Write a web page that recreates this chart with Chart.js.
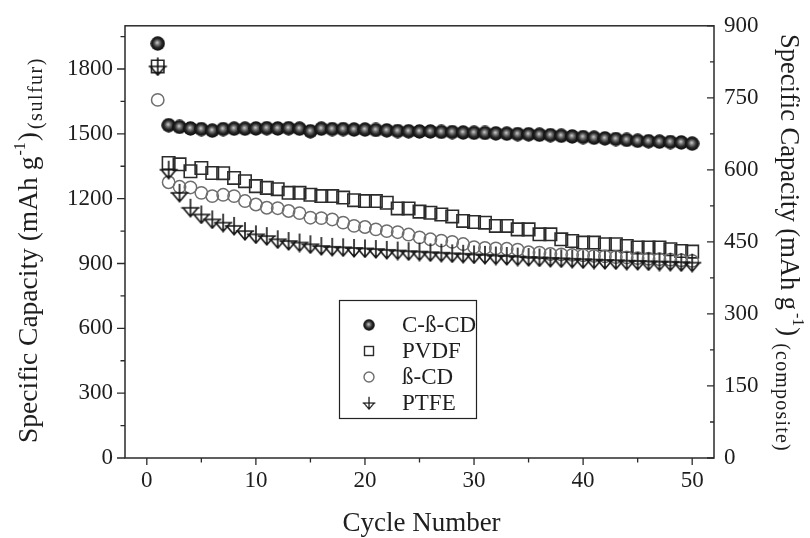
<!DOCTYPE html>
<html>
<head>
<meta charset="utf-8">
<script src="https://cdn.jsdelivr.net/npm/chart.js@4/dist/chart.umd.min.js"></script>
<style>
  html, body { margin: 0; padding: 0; background: #fff; }
  #wrap { width: 810px; height: 538px; }
</style>
</head>
<body>
<div id="wrap"><canvas id="c" width="810" height="538"></canvas></div>
<script>
// Cycle numbers and discharge capacities (mAh g-1, per sulfur)
const cycles = [1,2,3,4,5,6,7,8,9,10,11,12,13,14,15,16,17,18,19,20,21,22,23,24,25,
                26,27,28,29,30,31,32,33,34,35,36,37,38,39,40,41,42,43,44,45,46,47,48,49,50];
const cbcd = [1918,1540,1532,1525,1522,1515,1522,1524,1524,1525,1526,1525,1526,1524,1512,1524,1522,1522,1520,1520,
              1518,1516,1513,1512,1511,1511,1509,1508,1506,1505,1504,1502,1501,1499,1498,1496,1494,1491,1488,1485,
              1482,1479,1476,1472,1468,1466,1464,1462,1460,1455];
const pvdf = [1812,1365,1359,1327,1342,1319,1318,1296,1281,1258,1250,1244,1227,1227,1218,1212,1212,1205,1193,1189,
              1189,1181,1155,1155,1140,1135,1127,1118,1097,1092,1089,1074,1074,1058,1058,1035,1035,1012,1004,997,
              997,989,989,981,974,974,974,966,958,955];
const bcd  = [1657,1276,1255,1252,1227,1212,1218,1212,1189,1173,1158,1156,1143,1133,1112,1110,1104,1089,1074,1069,
              1058,1050,1045,1034,1021,1012,1006,1000,990,976,972,970,968,964,952,950,944,942,940,938,
              935,933,930,928,925,922,920,918,915,912];
const ptfe = [1812,1334,1227,1158,1127,1104,1089,1074,1050,1035,1027,1012,1004,997,989,981,977,975,972,970,
              967,963,960,957,955,952,950,947,945,942,940,937,935,932,930,928,926,924,922,920,
              918,916,915,913,912,910,909,908,906,904];
const seriesNames = ['C-ß-CD', 'PVDF', 'ß-CD', 'PTFE'];

// Axis ticks
const xTicks = [0, 10, 20, 30, 40, 50];
const leftTicks = [0, 300, 600, 900, 1200, 1500, 1800];
const rightTicks = [0, 150, 300, 450, 600, 750, 900];

const SERIF = '"Liberation Serif", "Times New Roman", serif';
const INK = '#1e1e1e';

// Shaded sphere marker
function makeSphere(d) {
  const c = document.createElement('canvas');
  c.width = c.height = d;
  const g = c.getContext('2d');
  const r = d / 2;
  const grad = g.createRadialGradient(r * 0.92, r * 0.88, r * 0.04, r, r, r);
  grad.addColorStop(0, '#c8c8c8');
  grad.addColorStop(0.28, '#707070');
  grad.addColorStop(0.6, '#262626');
  grad.addColorStop(1, '#080808');
  g.fillStyle = grad;
  g.beginPath();
  g.arc(r, r, r - 0.3, 0, Math.PI * 2);
  g.fill();
  return c;
}

// Down-triangle with a cross through it
function makeCrossTri(s, lw) {
  const c = document.createElement('canvas');
  c.width = c.height = s;
  const g = c.getContext('2d');
  const m = s / 2;
  g.strokeStyle = '#151515';
  g.lineWidth = lw;
  g.beginPath();
  g.moveTo(0.8, m); g.lineTo(s - 0.8, m);
  g.moveTo(m, 1); g.lineTo(m, s - 1);
  g.moveTo(m - s * 0.37, m); g.lineTo(m + s * 0.37, m); g.lineTo(m, s - 1.3); g.closePath();
  g.stroke();
  return c;
}

const sphere = makeSphere(15);
const crossTri = makeCrossTri(20, 1.6);

function pts(ys) { return cycles.map((c, i) => ({ x: c, y: ys[i] })); }

// Frame, ticks, axis titles and legend
const decor = {
  id: 'decor',
  beforeDatasetsDraw(chart) {
    const { ctx, chartArea: a } = chart;
    const sx = chart.scales.x, sl = chart.scales.y, sr = chart.scales.yR;
    ctx.save();
    ctx.strokeStyle = '#2a2a2a';
    ctx.lineWidth = 1.5;
    ctx.strokeRect(a.left, a.top, a.right - a.left, a.bottom - a.top);
    ctx.lineWidth = 1.3;
    ctx.beginPath();
    // bottom: outward
    xTicks.forEach((v, i) => {
      const px = sx.getPixelForValue(v);
      ctx.moveTo(px, a.bottom); ctx.lineTo(px, a.bottom + 7);
      if (i < xTicks.length - 1) {
        const mx = sx.getPixelForValue((v + xTicks[i + 1]) / 2);
        ctx.moveTo(mx, a.bottom); ctx.lineTo(mx, a.bottom + 4.5);
      }
    });
    // left: outward
    const step = leftTicks[1] - leftTicks[0];
    leftTicks.forEach(v => {
      const py = sl.getPixelForValue(v);
      ctx.moveTo(a.left, py); ctx.lineTo(a.left - 8, py);
      const mv = v + step / 2;
      if (mv <= sl.max) {
        const my = sl.getPixelForValue(mv);
        ctx.moveTo(a.left, my); ctx.lineTo(a.left - 4.5, my);
      }
    });
    // right: inward
    rightTicks.forEach((v, i) => {
      const py = sr.getPixelForValue(v);
      ctx.moveTo(a.right, py); ctx.lineTo(a.right - 7, py);
      if (i < rightTicks.length - 1) {
        const my = sr.getPixelForValue((v + rightTicks[i + 1]) / 2);
        ctx.moveTo(a.right, my); ctx.lineTo(a.right - 4, my);
      }
    });
    ctx.stroke();
    ctx.restore();
  },
  afterDraw(chart) {
    const { ctx, chartArea: a } = chart;
    ctx.save();
    ctx.fillStyle = INK;

    // x title
    ctx.font = '27px ' + SERIF;
    ctx.textAlign = 'center';
    ctx.textBaseline = 'alphabetic';
    ctx.fillText('Cycle Number', (a.left + a.right) / 2 + 2, 531);

    // vertical titles with super/subscripts
    function rich(parts, cx, cy, angle) {
      ctx.save();
      ctx.translate(cx, cy);
      ctx.rotate(angle);
      ctx.textAlign = 'left';
      ctx.textBaseline = 'alphabetic';
      let total = 0;
      parts.forEach(p => {
        ctx.font = p.size + 'px ' + SERIF;
        ctx.letterSpacing = (p.ls || 0) + 'px';
        p.w = ctx.measureText(p.t).width;
        total += p.w + (p.gap || 0);
      });
      let x = -total / 2;
      parts.forEach(p => {
        ctx.font = p.size + 'px ' + SERIF;
        ctx.letterSpacing = (p.ls || 0) + 'px';
        x += (p.gap || 0);
        ctx.fillText(p.t, x, 9 + (p.dy || 0));
        x += p.w;
      });
      ctx.restore();
    }
    rich([
      { t: 'Specific Capacity (mAh g', size: 27.5 },
      { t: '-1', size: 16, dy: -12, gap: 1 },
      { t: ')', size: 27.5, gap: 1 },
      { t: '(sulfur)', size: 20, dy: 5, gap: 3, ls: 1.5 }
    ], 28, 250, -Math.PI / 2);
    rich([
      { t: 'Specific Capacity (mAh g', size: 26.5 },
      { t: '-1', size: 16, dy: -12, gap: 3 },
      { t: ')', size: 26.5, gap: 1 },
      { t: '(composite)', size: 20, dy: 5, gap: 7, ls: 1.2 }
    ], 790, 243, Math.PI / 2);

    // legend box
    const lx = 339, ly = 300, lw = 137, lh = 118;
    ctx.strokeStyle = '#222';
    ctx.lineWidth = 1.2;
    ctx.strokeRect(lx + 0.5, ly + 0.5, lw, lh);
    const mx = 369;
    const rows = [325, 351, 377, 403];
    ctx.font = '23px ' + SERIF;
    ctx.textBaseline = 'middle';
    ctx.textAlign = 'left';
    rows.forEach((ry, i) => {
      if (i === 0) ctx.drawImage(sphere, mx - 6, ry - 6, 12, 12);
      if (i === 1) { ctx.lineWidth = 1.4; ctx.strokeStyle = '#2b2b2b'; ctx.strokeRect(mx - 4.5, ry - 4.5, 9, 9); }
      if (i === 2) { ctx.lineWidth = 1.4; ctx.strokeStyle = '#6e6e6e'; ctx.beginPath(); ctx.arc(mx, ry, 5, 0, Math.PI * 2); ctx.stroke(); }
      if (i === 3) ctx.drawImage(crossTri, mx - 7, ry - 7, 14, 14);
      ctx.fillStyle = INK;
      ctx.fillText(seriesNames[i], 402, ry + 1);
    });
    ctx.restore();
  }
};

const tickFont = { family: SERIF, size: 23 };
const plain = v => String(v);

new Chart(document.getElementById('c'), {
  type: 'scatter',
  data: {
    datasets: [
      { label: seriesNames[0], data: pts(cbcd), pointStyle: sphere, pointRadius: 7.5, order: 3, yAxisID: 'y' },
      { label: seriesNames[1], data: pts(pvdf), pointStyle: 'rect', pointRadius: 8.8, borderColor: '#2b2b2b',
        backgroundColor: 'rgba(0,0,0,0)', borderWidth: 1.6, order: 2, yAxisID: 'y' },
      { label: seriesNames[2], data: pts(bcd), pointStyle: 'circle', pointRadius: 6.2, borderColor: '#6e6e6e',
        backgroundColor: 'rgba(0,0,0,0)', borderWidth: 1.5, order: 1, yAxisID: 'y' },
      { label: seriesNames[3], data: pts(ptfe), pointStyle: crossTri, pointRadius: 9, order: 0, yAxisID: 'y' }
    ]
  },
  options: {
    responsive: false,
    animation: false,
    devicePixelRatio: 1,
    layout: { padding: { top: 25, bottom: 0, left: 0, right: 0 } },
    plugins: { legend: { display: false }, tooltip: { enabled: false } },
    scales: {
      x: {
        type: 'linear', position: 'bottom', min: -2, max: 52,
        afterBuildTicks: s => { s.ticks = xTicks.map(v => ({ value: v })); },
        afterFit: s => { s.height = 80; },
        ticks: { font: tickFont, color: INK, padding: 9, maxRotation: 0, autoSkip: false, callback: plain },
        grid: { display: false, drawTicks: false },
        border: { display: false }
      },
      y: {
        type: 'linear', position: 'left', min: 0, max: 2000,
        afterBuildTicks: s => { s.ticks = leftTicks.map(v => ({ value: v })); },
        afterFit: s => { s.width = 125; },
        ticks: { font: tickFont, color: INK, padding: 12, autoSkip: false, callback: plain },
        grid: { display: false, drawTicks: false },
        border: { display: false }
      },
      yR: {
        type: 'linear', position: 'right', min: 0, max: 900, display: true,
        afterBuildTicks: s => { s.ticks = rightTicks.map(v => ({ value: v })); },
        afterFit: s => { s.width = 96; },
        ticks: { font: tickFont, color: INK, padding: 10, autoSkip: false, callback: plain },
        grid: { display: false, drawTicks: false },
        border: { display: false }
      }
    }
  },
  plugins: [decor]
});
</script>
</body>
</html>
